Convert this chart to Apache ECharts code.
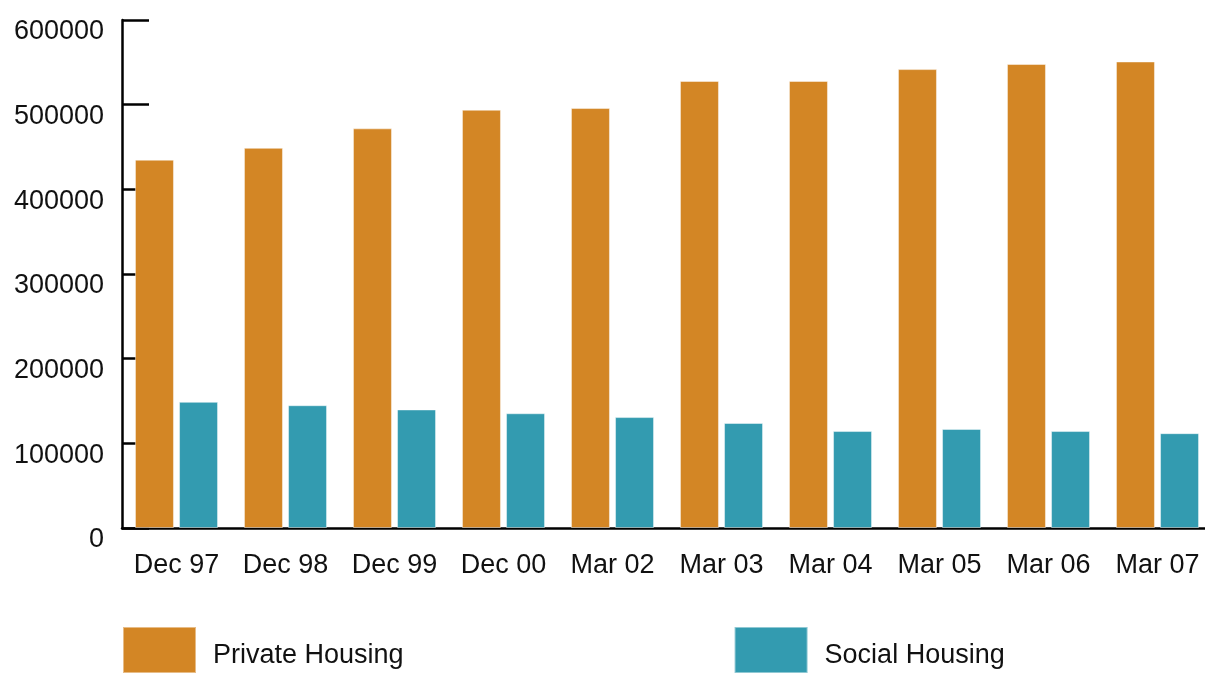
<!DOCTYPE html>
<html>
<head>
<meta charset="utf-8">
<script src="https://cdn.jsdelivr.net/npm/echarts@6/dist/echarts.min.js"></script>
<style>
html,body{margin:0;padding:0;background:#fff;}
#chart{width:1205px;height:673px;}
</style>
</head>
<body>
<div id="chart"></div>
<script>
const categories = ['Dec 97','Dec 98','Dec 99','Dec 00','Mar 02','Mar 03','Mar 04','Mar 05','Mar 06','Mar 07'];
const privateHousing = [435000, 449000, 472000, 494000, 496000, 528000, 528000, 542000, 548000, 551000];
const socialHousing = [149000, 145000, 140000, 135500, 131000, 124000, 114500, 117000, 114500, 112000];
const yTicks = [0, 100000, 200000, 300000, 400000, 500000, 600000];

const FONT = '"Liberation Sans", Arial, Helvetica, sans-serif';
const chart = echarts.init(document.getElementById('chart'), null, {renderer: 'canvas'});
chart.setOption({
  animation: false,
  backgroundColor: '#ffffff',
  textStyle: {fontFamily: FONT},
  grid: {left: 122, top: 20, bottom: 145, right: -7, containLabel: false, outerBoundsMode: 'none'},
  legend: {
    left: 122, top: 626, padding: 0,
    itemWidth: 73, itemHeight: 46, itemGap: 330,
    icon: 'rect',
    formatter: '{t|{name}}',
    textStyle: {fontSize: 27, color: '#111', fontFamily: FONT,
      rich: {t: {fontSize: 27, color: '#111', fontFamily: FONT, padding: [12, 0, 0, 12]}}},
    data: ['Private Housing', 'Social Housing']
  },
  xAxis: {
    type: 'category',
    data: categories,
    axisLine: {lineStyle: {color: '#000', width: 2.5}},
    axisTick: {inside: true, length: 13, lineStyle: {color: '#000', width: 2.5}},
    axisLabel: {interval: 0, fontSize: 27, color: '#111', margin: 24, fontFamily: FONT}
  },
  yAxis: {
    type: 'value',
    min: 0, max: yTicks[yTicks.length - 1], interval: yTicks[1] - yTicks[0],
    axisLine: {show: true, lineStyle: {color: '#000', width: 2.5}},
    axisTick: {show: true, inside: true, length: 27, lineStyle: {color: '#000', width: 2.5}},
    splitLine: {show: false},
    axisLabel: {fontSize: 27, color: '#111', margin: 18, fontFamily: FONT,
      verticalAlign: 'top', lineHeight: 24,
      formatter: function (v) { return String(v); }}
  },
  series: [
    {
      name: 'Private Housing', type: 'bar', data: privateHousing,
      barWidth: 39, barGap: '13%',
      itemStyle: {color: '#D38625', borderColor: 'rgba(255,255,255,0.45)', borderWidth: 1}
    },
    {
      name: 'Social Housing', type: 'bar', data: socialHousing,
      barWidth: 39,
      itemStyle: {color: '#339BB0', borderColor: 'rgba(255,255,255,0.45)', borderWidth: 1}
    }
  ]
});
</script>
</body>
</html>
